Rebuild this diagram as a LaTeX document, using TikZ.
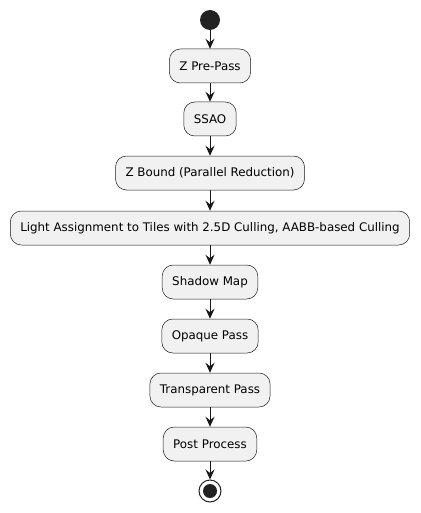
\documentclass[tikz,border=0pt]{standalone}
\usepackage{fontspec}
\setmainfont{DejaVu Sans}
\usetikzlibrary{arrows.meta}
\definecolor{boxfill}{HTML}{F1F1F1}
\definecolor{ink}{HTML}{181818}
\definecolor{dot}{HTML}{222222}
\begin{document}
\begin{tikzpicture}[x=1pt,y=-1pt,
  act/.style={draw=ink, line width=0.5pt, fill=boxfill, rounded corners=11pt,
    minimum height=34pt, inner xsep=10pt, inner ysep=0pt,
    font=\fontsize{11.85}{14}\selectfont},
  flow/.style={draw=ink, line width=0.9pt, -{Stealth[length=10pt,width=9pt,inset=3.5pt]}}]
\useasboundingbox (0,0) rectangle (420,513);
% start and end markers
\node[circle, fill=dot, minimum size=20pt, inner sep=0pt] (start) at (210,20) {};
\node[circle, draw=dot, line width=1pt, fill=white, minimum size=22pt, inner sep=0pt] (stop) at (210,491) {};
\fill[dot] (stop.center) circle (7pt);
% activities
\node[act] (zpre) at (210,66) {Z Pre-Pass};
\node[act] (ssao) at (210,119) {SSAO};
\node[act] (zbound) at (210,173) {Z Bound (Parallel Reduction)};
\node[act] (light) at (210,228) {Light Assignment to Tiles with 2.5D Culling, AABB-based Culling};
\node[act] (shadow) at (210,282) {Shadow Map};
\node[act] (opaque) at (210,336) {Opaque Pass};
\node[act] (transp) at (210,390) {Transparent Pass};
\node[act] (post) at (210,444) {Post Process};
% control flow
\draw[flow] (start) -- (zpre);
\draw[flow] (zpre) -- (ssao);
\draw[flow] (ssao) -- (zbound);
\draw[flow] (zbound) -- (light);
\draw[flow] (light) -- (shadow);
\draw[flow] (shadow) -- (opaque);
\draw[flow] (opaque) -- (transp);
\draw[flow] (transp) -- (post);
\draw[flow] (post) -- (stop);
\end{tikzpicture}
\end{document}
